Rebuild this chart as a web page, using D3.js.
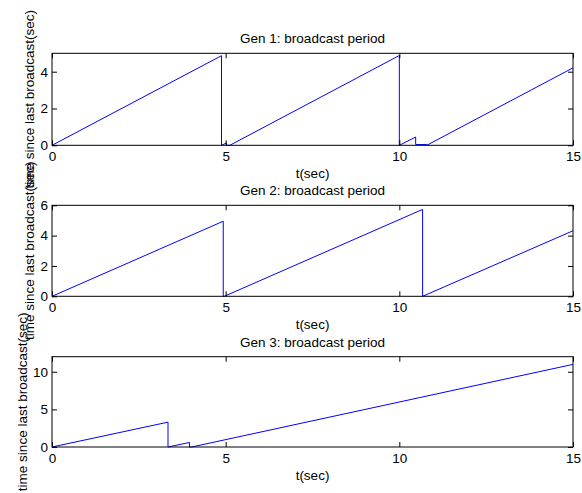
<!DOCTYPE html>
<html>
<head>
<meta charset="utf-8">
<script src="https://cdn.jsdelivr.net/npm/d3@7"></script>
<style>
  body { margin: 0; background: #fff; }
  text { font-family: "Liberation Sans", Arial, Helvetica, sans-serif; font-size: 13.5px; fill: #000; }
</style>
</head>
<body>
<svg id="fig" width="582" height="493"></svg>
<script>
// time axis shared by all three panels
var xTicks = [0, 5, 10, 15];

// Gen 1: time since last broadcast (sawtooth)
var gen1Time = [0, 4.88, 4.88, 5.02, 5.02, 5.12, 10.0, 10.0, 10.47, 10.47, 10.79, 10.79, 15];
var gen1Wait = [0, 4.87, 0, 0.12, 0, 0, 4.88, 0, 0.45, 0.04, 0.04, 0, 4.21];
var gen1YTicks = [0, 2, 4];

// Gen 2
var gen2Time = [0, 4.93, 4.93, 4.96, 10.67, 10.67, 15];
var gen2Wait = [0, 4.95, 0, 0, 5.73, 0, 4.32];
var gen2YTicks = [0, 2, 4, 6];

// Gen 3
var gen3Time = [0, 3.34, 3.34, 3.96, 3.96, 4.02, 15];
var gen3Wait = [0, 3.3, 0, 0.6, 0, 0, 10.98];
var gen3YTicks = [0, 5, 10];

var titles = ["Gen 1: broadcast period", "Gen 2: broadcast period", "Gen 3: broadcast period"];
var yLabel = "time since last broadcast(sec)";
var xLabel = "t(sec)";

var panels = [
    { t: gen1Time, v: gen1Wait, yMax: 5,  yTicks: gen1YTicks, top: 53.3,  bottom: 145.3 },
    { t: gen2Time, v: gen2Wait, yMax: 6,  yTicks: gen2YTicks, top: 205.3, bottom: 296.3 },
    { t: gen3Time, v: gen3Wait, yMax: 12, yTicks: gen3YTicks, top: 356.7, bottom: 447 }
];

var svg = d3.select("#fig");
var left = 52, right = 573, tickLen = 5;
var fmt = d3.format("d");

svg.append("rect").attr("width", 582).attr("height", 493).attr("fill", "#fff");

panels.forEach(function(p, i)
{
    var x = d3.scaleLinear().domain([0, 15]).range([left, right]);
    var y = d3.scaleLinear().domain([0, p.yMax]).range([p.bottom, p.top]);

    var g = svg.append("g");

    // the line
    var pts = p.t.map(function(d, k) { return [d, p.v[k]]; });
    var line = d3.line()
        .x(function(d) { return x(d[0]); })
        .y(function(d) { return y(d[1]); });
    g.append("path")
        .datum(pts)
        .attr("d", line)
        .attr("fill", "none")
        .attr("stroke", "#0000ff")
        .attr("stroke-width", 1);

    // ticks on all four sides, pointing in
    g.append("g")
        .attr("transform", "translate(0," + p.bottom + ")")
        .call(d3.axisBottom(x).tickValues(xTicks).tickFormat(fmt).tickSizeInner(-tickLen).tickSizeOuter(0).tickPadding(6));
    g.append("g")
        .attr("transform", "translate(0," + p.top + ")")
        .call(d3.axisTop(x).tickValues(xTicks).tickSizeInner(-tickLen).tickSizeOuter(0).tickFormat(""));
    var leftAx = g.append("g")
        .attr("transform", "translate(" + left + ",0)")
        .call(d3.axisLeft(y).tickValues(p.yTicks).tickFormat(fmt).tickSizeInner(-tickLen).tickSizeOuter(0).tickPadding(4));
    g.append("g")
        .attr("transform", "translate(" + right + ",0)")
        .call(d3.axisRight(y).tickValues(p.yTicks).tickSizeInner(-tickLen).tickSizeOuter(0).tickFormat(""));

    g.selectAll(".domain").remove();
    g.selectAll(".tick line").attr("stroke", "#000");
    g.selectAll(".tick text")
        .style("font-family", "'Liberation Sans', Arial, Helvetica, sans-serif")
        .style("font-size", "13.5px")
        .attr("fill", "#000");

    // box
    g.append("rect")
        .attr("x", left).attr("y", p.top)
        .attr("width", right - left).attr("height", p.bottom - p.top)
        .attr("fill", "none")
        .attr("stroke", "#000")
        .attr("stroke-width", 1);

    var cx = (left + right) / 2;
    g.append("text")
        .attr("x", cx).attr("y", p.top - 10)
        .attr("text-anchor", "middle")
        .text(titles[i]);

    g.append("text")
        .attr("x", cx).attr("y", p.bottom + 33)
        .attr("text-anchor", "middle")
        .text(xLabel);

    // y label sits just left of the widest tick label
    var minX = d3.min(leftAx.selectAll(".tick text").nodes(), function(n)
    {
        var b = n.getBBox();
        return left + b.x;
    });
    var lx = minX - 6;
    var ly = (p.top + p.bottom) / 2;
    g.append("text")
        .attr("transform", "translate(" + lx + "," + ly + ") rotate(-90)")
        .attr("text-anchor", "middle")
        .text(yLabel);
});
</script>
</body>
</html>
